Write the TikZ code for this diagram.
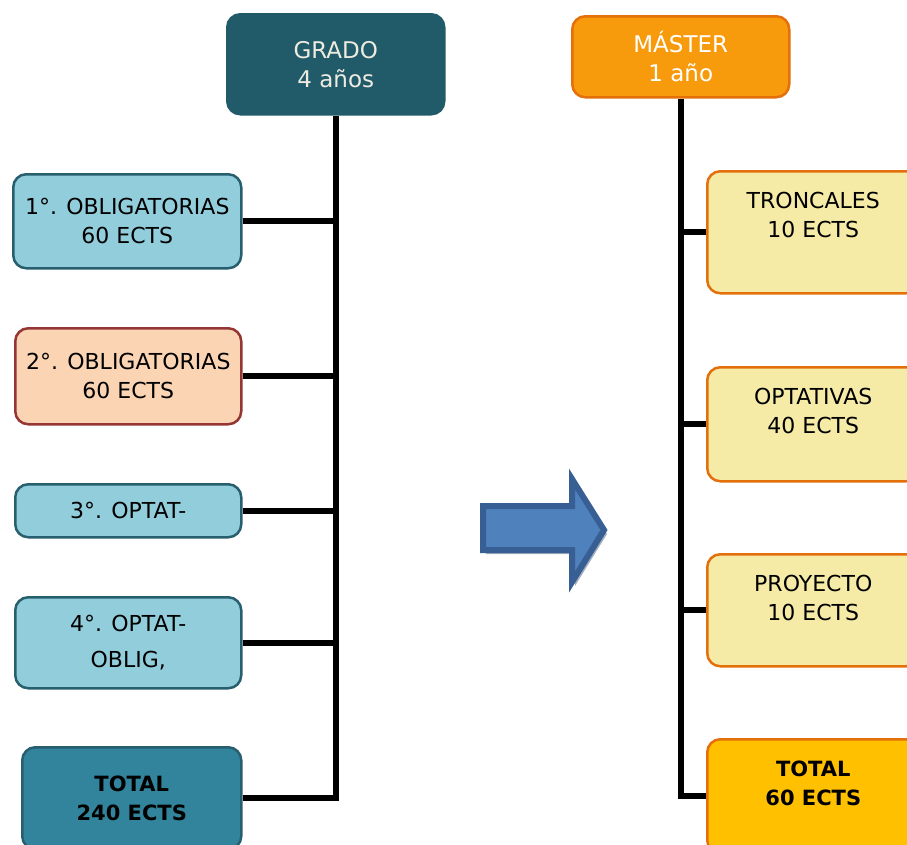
\documentclass[tikz,border=0pt]{standalone}
\usepackage{fontspec}
\setmainfont{DejaVu Sans}
\usetikzlibrary{calc}
\definecolor{gradofill}{HTML}{215A69}
\definecolor{gradotext}{HTML}{EEECE1}
\definecolor{masterfill}{HTML}{F79A0B}
\definecolor{orangeline}{HTML}{E4700C}
\definecolor{lblue}{HTML}{92CDDC}
\definecolor{tealline}{HTML}{285F6E}
\definecolor{peach}{HTML}{FBD4B4}
\definecolor{redline}{HTML}{943634}
\definecolor{totblue}{HTML}{31849B}
\definecolor{lyellow}{HTML}{F5EBA7}
\definecolor{gold}{HTML}{FFC000}
\definecolor{arrfill}{HTML}{4F81BD}
\definecolor{arrline}{HTML}{375F93}
\definecolor{arrshadow}{HTML}{A5AEBD}
\tikzset{
  box/.style={draw, rounded corners=13pt, line width=2.5pt, inner sep=0pt, align=center, anchor=north west},
  lbox/.style={box, fill=lblue, draw=tealline, minimum width=228pt},
  rbox/.style={box, fill=lyellow, draw=orangeline, minimum width=212pt},
  conn/.style={line width=6pt, draw=black},
  txt/.style={align=center, inner sep=0pt, font=\fontsize{22}{29}\selectfont}
}
\begin{document}
\begin{tikzpicture}[x=1pt,y=1pt]
\useasboundingbox (0,0) rectangle (907,-844);
\clip (0,0) rectangle (907,-844);
% top boxes
\node[box, fill=gradofill, draw=gradofill, minimum width=217pt, minimum height=100pt, text=gradotext, font=\fontsize{23}{29}\selectfont] (grado) at (226,-13) {GRADO\\4 años};
\node[box, fill=masterfill, draw=orangeline, minimum width=217pt, minimum height=81pt, text=white, font=\fontsize{23}{29}\selectfont] (master) at (571,-15) {MÁSTER\\1 año};
% left boxes
\node[lbox, minimum width=228pt, minimum height=94pt, font=\fontsize{22}{29}\selectfont] (b1) at (12,-173) {1°. OBLIGATORIAS\\60 ECTS};
\node[box, fill=peach, draw=redline, minimum width=226pt, minimum height=96pt, font=\fontsize{22}{29}\selectfont] (b2) at (14,-327) {2°. OBLIGATORIAS\\60 ECTS};
\node[lbox, minimum width=226pt, minimum height=53pt, font=\fontsize{22}{29}\selectfont] (b3) at (14,-483) {3°. OPTAT-};
\node[lbox, minimum width=226pt, minimum height=91pt, font=\fontsize{22}{36}\selectfont] (b4) at (14,-596) {4°. OPTAT-\\OBLIG,};
\node[box, fill=totblue, draw=tealline, minimum width=219pt, minimum height=102pt, font=\bfseries\fontsize{21}{29}\selectfont] (bt) at (21,-746) {TOTAL\\240 ECTS};
% right boxes
\node[rbox, minimum height=122pt] (r1) at (706,-170) {};
\node[rbox, minimum height=114pt] (r2) at (706,-366) {};
\node[rbox, minimum height=112pt] (r3) at (706,-553) {};
\node[rbox, fill=gold, minimum height=114pt] (rt) at (706,-738) {};
\node[txt] (r1t) at ($(r1.north)+(0,-44.5)$) {TRONCALES\\10 ECTS};
\node[txt] (r2t) at ($(r2.north)+(0,-44.5)$) {OPTATIVAS\\40 ECTS};
\node[txt] (r3t) at ($(r3.north)+(0,-44.5)$) {PROYECTO\\10 ECTS};
\node[txt, font=\bfseries\fontsize{21}{29}\selectfont] (rtt) at ($(rt.north)+(0,-45.5)$) {TOTAL\\60 ECTS};
% left trunk and branches
\draw[conn] (grado.south) -- (grado.south |- bt.east) -- (bt.east);
\foreach \b in {b1,b2,b3,b4} \draw[conn] (\b.east) -- (\b.east -| grado.south);
% right trunk and branches
\draw[conn] (master.south) -- (master.south |- rt.west) -- (rt.west);
\foreach \b in {r1,r2,r3} \draw[conn] (\b.west) -- (\b.west -| master.south);
% block arrow
\coordinate (a1) at (483,-506);
\coordinate (a2) at (572,-506);
\coordinate (a3) at (572,-479);
\coordinate (a4) at (604,-530);
\coordinate (a5) at (572,-582);
\coordinate (a6) at (572,-550);
\coordinate (a7) at (483,-550);
\fill[arrshadow] ([shift={(3,-4)}]a1) -- ([shift={(3,-4)}]a2) -- ([shift={(3,-4)}]a3) -- ([shift={(3,-4)}]a4) -- ([shift={(3,-4)}]a5) -- ([shift={(3,-4)}]a6) -- ([shift={(3,-4)}]a7) -- cycle;
\draw[fill=arrfill, draw=arrline, line width=6pt, line join=miter] (a1) -- (a2) -- (a3) -- (a4) -- (a5) -- (a6) -- (a7) -- cycle;
\end{tikzpicture}
\end{document}
